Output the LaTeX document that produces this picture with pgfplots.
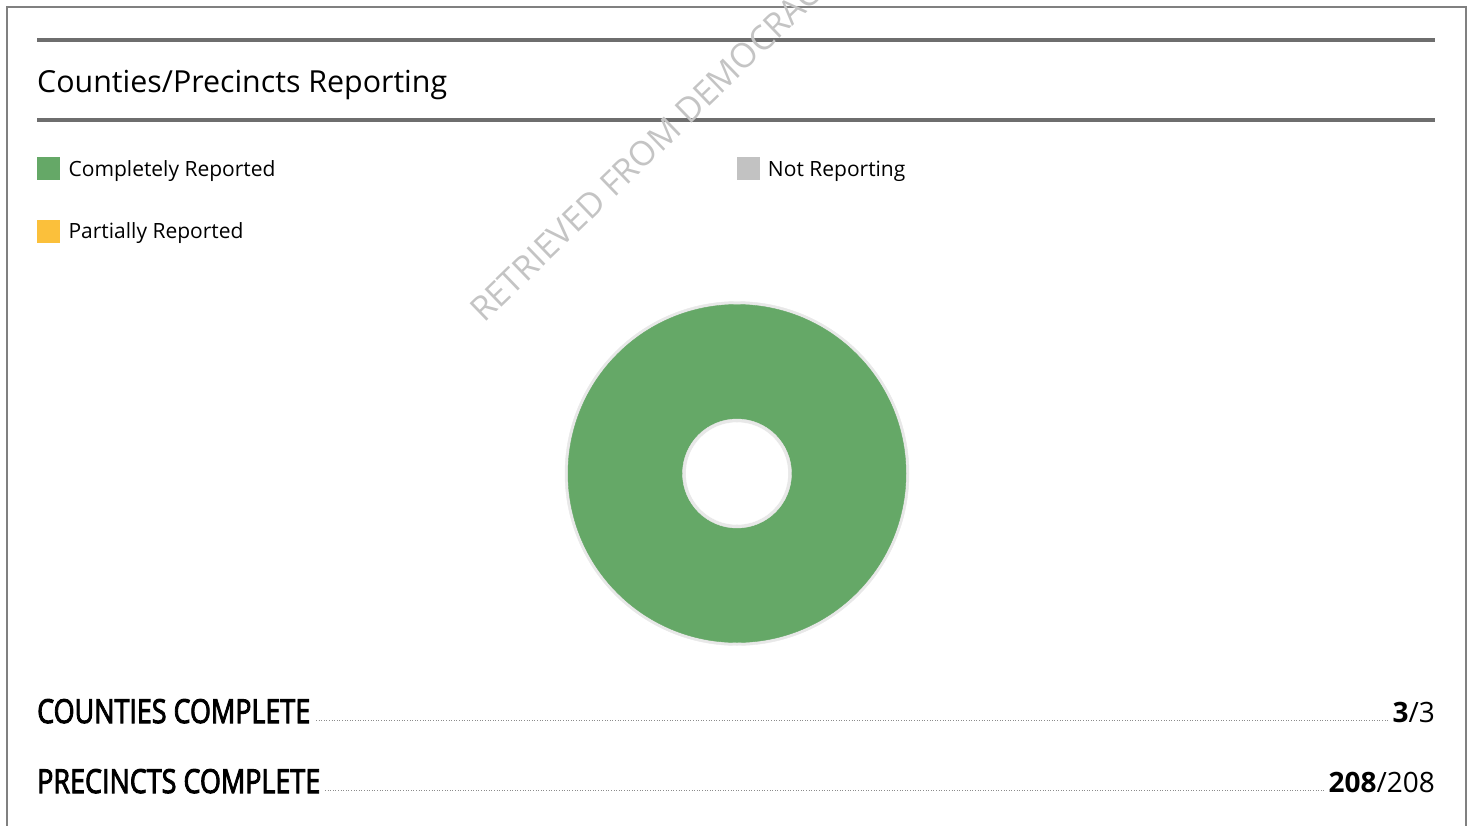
\documentclass[border=0pt]{standalone}
\usepackage{pgfplots}
\pgfplotsset{compat=1.18}
\usepackage{fontspec}
\setmainfont{Open Sans}
\newfontfamily\semibold[FakeBold=3]{Open Sans}

\definecolor{compgreen}{HTML}{65A867}
\definecolor{partyellow}{HTML}{FBC03B}
\definecolor{notgrey}{HTML}{C2C2C2}
\definecolor{ringgrey}{HTML}{E8E8E8}
\definecolor{rulegrey}{HTML}{6E6E6E}
\definecolor{boxgrey}{HTML}{808080}
\definecolor{wmgrey}{HTML}{C4C4C4}
\definecolor{dotgrey}{HTML}{8C8C8C}

\begin{document}
\begin{tikzpicture}
\useasboundingbox (0,0) rectangle (1473pt,825pt);
\begin{axis}[
    at={(0,0)}, anchor=south west,
    width=1473pt, height=825pt, scale only axis,
    xmin=0, xmax=1473, ymin=0, ymax=825, y dir=reverse,
    hide axis, clip=false,
    legend columns=2,
    legend cell align=left,
    legend style={at={(axis cs:37,157)}, anchor=north west,
        draw=none, fill=none, inner sep=0pt,
        font=\fontsize{21}{26}\selectfont,
        row sep=40pt,
        nodes={inner sep=0pt, text height=19pt, text depth=3pt},
        /tikz/every odd column/.style={column sep=9pt}},
  ]
% legend squares
\addlegendimage{legend image code/.code={\fill[compgreen] (0pt,-11pt) rectangle (22pt,11pt);}}
\addlegendentry{\makebox[668pt][l]{Completely Reported}}
\addlegendimage{legend image code/.code={\fill[notgrey] (0pt,-11pt) rectangle (22pt,11pt);}}
\addlegendentry{Not Reporting}
\addlegendimage{legend image code/.code={\fill[partyellow] (0pt,-11pt) rectangle (22pt,11pt);}}
\addlegendentry{Partially Reported}

% donut: Completely Reported 100%, Partially 0%, Not Reporting 0%
\addplot[forget plot, ringgrey, only marks, mark=*, mark size=172pt,
    mark options={fill=ringgrey, draw=none}] coordinates {(737,473.5)};
\addplot[forget plot, compgreen, only marks, mark=*, mark size=169pt,
    mark options={fill=compgreen, draw=none}] coordinates {(737,473.5)};
\addplot[forget plot, ringgrey, only marks, mark=*, mark size=54.5pt,
    mark options={fill=ringgrey, draw=none}] coordinates {(737,473.5)};
\addplot[forget plot, white, only marks, mark=*, mark size=51pt,
    mark options={fill=white, draw=none}] coordinates {(737,473.5)};
\node[white, font=\fontsize{26}{32}\selectfont] at (axis cs:737,585) {100\%};

% frame and rules
\draw[boxgrey, line width=2pt] (axis cs:7,840) -- (axis cs:7,7) -- (axis cs:1466,7) -- (axis cs:1466,840);
\draw[rulegrey, line width=4pt] (axis cs:37,40) -- (axis cs:1435,40);
\draw[rulegrey, line width=4pt] (axis cs:37,120) -- (axis cs:1435,120);
\node[anchor=base west, inner sep=0pt] at (axis cs:37,92) {\resizebox{410pt}{!}{\fontsize{33}{40}\selectfont Counties/Precincts Reporting}};

% watermark
\node[wmgrey, anchor=base west, inner sep=0pt, rotate=44, font=\fontsize{34}{40}\selectfont] at (axis cs:484,324) {RETRIEVED FROM DEMOCRACYDOCKET.COM};

% totals
\node[anchor=base west, inner sep=0pt] at (axis cs:37,723) {\resizebox{273pt}{24pt}{\semibold COUNTIES COMPLETE}};
\node[anchor=base west, inner sep=0pt] at (axis cs:37,793) {\resizebox{283pt}{24pt}{\semibold PRECINCTS COMPLETE}};
\draw[dotgrey, line width=1pt, dash pattern=on 1pt off 1.6pt] (axis cs:316,720) -- (axis cs:1388,720);
\draw[dotgrey, line width=1pt, dash pattern=on 1pt off 1.6pt] (axis cs:325,790) -- (axis cs:1326,790);
\node[anchor=base east, inner sep=0pt, font=\fontsize{28}{32}\selectfont] at (axis cs:1435,722) {\textbf{3}/3};
\node[anchor=base east, inner sep=0pt, font=\fontsize{28}{32}\selectfont] at (axis cs:1435,792) {\textbf{208}/208};
\end{axis}
\end{tikzpicture}
\end{document}
